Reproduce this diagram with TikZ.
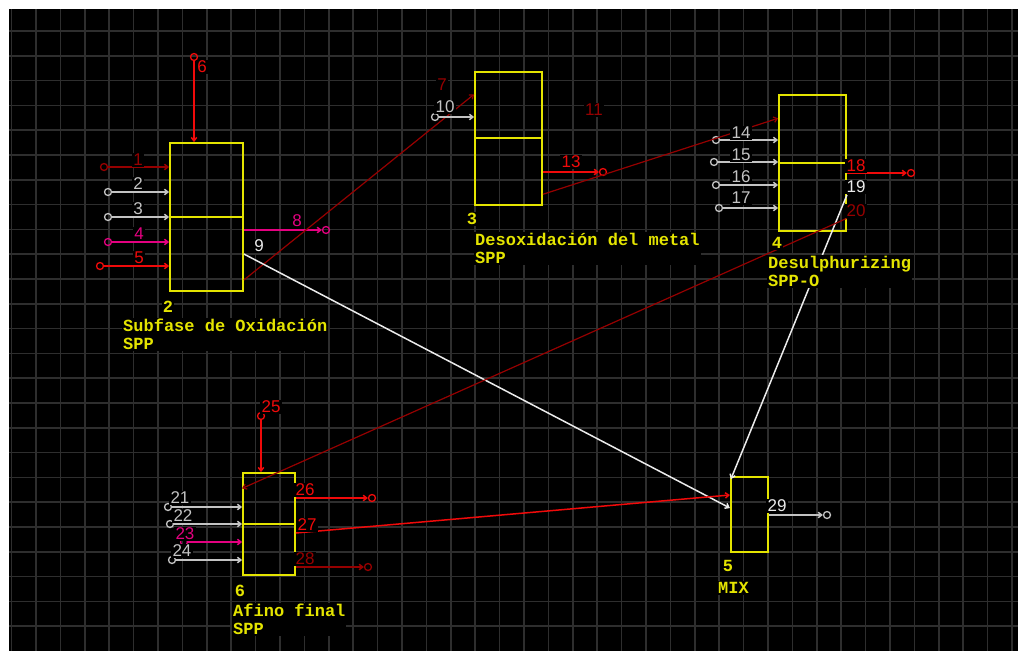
\documentclass[tikz,border=0pt]{standalone}
\usepackage{fontspec}
\setmainfont{Liberation Sans}
\newfontfamily\blockfont{Liberation Mono}
\usepackage{tikz}
\usetikzlibrary{arrows.meta, positioning, calc}
\definecolor{gridgray}{RGB}{46,46,46}
\definecolor{blkyellow}{RGB}{228,228,0}
\definecolor{darkred}{RGB}{150,0,0}
\definecolor{redline}{RGB}{240,10,10}
\definecolor{magentaln}{RGB}{228,0,128}
\definecolor{grayline}{RGB}{195,195,195}
\definecolor{whiteln}{RGB}{235,235,235}
\tikzset{
  gridline/.style={gridgray, line width=1.5pt},
  blk/.style={draw=blkyellow, line width=1.8pt, inner sep=0pt},
  strm/.style={line width=1.5pt, -{Straight Barb[length=3.5pt,width=5.5pt]}},
  src/.style={circle, line width=1.3pt, minimum size=7pt, inner sep=0pt},
  num/.style={fill=black, inner xsep=1.5pt, inner ysep=1pt, text depth=0pt,
    font=\fontsize{17}{17}\selectfont},
  bnum/.style={fill=black, inner sep=1pt, text=blkyellow,
    font=\blockfont\bfseries\fontsize{17}{18}\selectfont},
  title/.style={fill=black, align=left, anchor=north west, inner sep=1pt,
    text=blkyellow, font=\blockfont\bfseries\fontsize{17}{18}\selectfont}
}

\begin{document}
\begin{tikzpicture}[x=1pt, y=-1pt]
  \useasboundingbox (0,0) rectangle (1018,651);
  \fill[black] (9,9) rectangle (1018,651);
  % grid
  \foreach \k in {0,...,41}
    \draw[gridline] ({11.6+24.4*\k},9) -- ({11.6+24.4*\k},651);
  \foreach \k in {0,...,24}
    \draw[gridline] (9,{31+24.8*\k}) -- (1018,{31+24.8*\k});

  % unit blocks
  \node[blk, minimum width=73pt, minimum height=148pt] (b2) at (206.5,217) {};
  \node[blk, minimum width=67pt, minimum height=133pt] (b3) at (508.5,138.3) {};
  \node[blk, minimum width=67pt, minimum height=136pt] (b4) at (812.5,163) {};
  \node[blk, minimum width=37pt, minimum height=75pt] (b5) at (749.3,514.5) {};
  \node[blk, minimum width=52pt, minimum height=102pt] (b6) at (269,524) {};
  \foreach \b in {b2,b3,b4,b6}
    \draw[blkyellow, line width=1.8pt] (\b.west) -- (\b.east);

  % stream ends
  \node[src, draw=darkred] (s1) at (104,167) {};
  \node[src, draw=grayline] (s2) at (108,192) {};
  \node[src, draw=grayline] (s3) at (108,217) {};
  \node[src, draw=magentaln] (s4) at (108,242) {};
  \node[src, draw=redline] (s5) at (100,266) {};
  \node[src, draw=redline] (s6) at (194,57) {};
  \node[src, draw=magentaln] (o8) at (326,230) {};
  \node[src, draw=grayline] (s10) at (435,117) {};
  \node[src, draw=redline] (o13) at (603,172) {};
  \node[src, draw=grayline] (s14) at (716,140) {};
  \node[src, draw=grayline] (s15) at (714,162) {};
  \node[src, draw=grayline] (s16) at (716,185) {};
  \node[src, draw=grayline] (s17) at (719,208) {};
  \node[src, draw=redline] (o18) at (911,173) {};
  \node[src, draw=grayline] (s21) at (168,507) {};
  \node[src, draw=grayline] (s22) at (170,524) {};
  \node[src, draw=magentaln] (s23) at (184,542) {};
  \node[src, draw=grayline] (s24) at (172,560) {};
  \node[src, draw=redline] (s25) at (261,416) {};
  \node[src, draw=redline] (o26) at (372,498) {};
  \node[src, draw=darkred] (o28) at (368,567) {};
  \node[src, draw=grayline] (o29) at (827,515) {};

  % streams of block 2
  \draw[strm, darkred] (s1) -- (s1 -| b2.west);
  \draw[strm, grayline] (s2) -- (s2 -| b2.west);
  \draw[strm, grayline] (s3) -- (s3 -| b2.west);
  \draw[strm, magentaln] (s4) -- (s4 -| b2.west);
  \draw[strm, redline] (s5) -- (s5 -| b2.west);
  \draw[strm, redline] (s6) -- (s6 |- b2.north);
  \draw[strm, magentaln] (b2.east |- o8) -- (o8);
  \draw[strm, darkred, line width=1.2pt] ([yshift=-63pt]b2.east) -- ([yshift=44pt]b3.west);
  \draw[strm, whiteln] ([yshift=-37pt]b2.east) -- ([yshift=6.5pt]b5.west);
  % streams of block 3
  \draw[strm, grayline] (s10) -- (s10 -| b3.west);
  \draw[strm, redline] (b3.east |- o13) -- (o13);
  \draw[strm, darkred, line width=1.2pt] ([yshift=-56pt]b3.east) -- ([yshift=44.7pt]b4.west);
  % streams of block 4
  \foreach \s in {s14,s15,s16,s17}
    \draw[strm, grayline] (\s) -- (\s -| b4.west);
  \draw[strm, redline] (b4.east |- o18) -- (o18);
  \draw[strm, whiteln] ([yshift=-32pt]b4.east) -- ([shift={(1pt,-3pt)}]b5.north west);
  \draw[strm, darkred, line width=1.2pt] ([yshift=-55.3pt]b4.east) -- ([yshift=-16.3pt]b6.north west);
  % streams of block 6
  \draw[strm, grayline] (s21) -- (s21 -| b6.west);
  \draw[strm, grayline] (s22) -- (s22 -| b6.west);
  \draw[strm, magentaln] (s23) -- (s23 -| b6.west);
  \draw[strm, grayline] (s24) -- (s24 -| b6.west);
  \draw[strm, redline] (s25) -- (s25 |- b6.north);
  \draw[strm, redline] (b6.east |- o26) -- (o26);
  \draw[strm, redline] ([yshift=-9pt]b6.east) -- ([yshift=19.5pt]b5.west);
  \draw[strm, darkred] (b6.east |- o28) -- (o28);
  % mixer
  \draw[strm, grayline] (b5.east |- o29) -- (o29);

  % stream numbers
  \node[num, text=darkred] (n1) at (138,160) {1};
  \node[num, text=grayline] (n2) at (138,184) {2};
  \node[num, text=grayline] (n3) at (138,209) {3};
  \node[num, text=magentaln] (n4) at (139,234) {4};
  \node[num, text=redline] (n5) at (139,258) {5};
  \node[num, text=redline] (n6) at (202,67) {6};
  \node[num, text=darkred] (n7) at (442,85) {7};
  \node[num, text=magentaln] (n8) at (297,221) {8};
  \node[num, text=whiteln] (n9) at (259,246) {9};
  \node[num, text=grayline] (n10) at (445,107) {10};
  \node[num, text=darkred] (n11) at (594,110) {11};
  \node[num, text=redline] (n13) at (571,162) {13};
  \node[num, text=grayline] (n14) at (741,133) {14};
  \node[num, text=grayline] (n15) at (741,155) {15};
  \node[num, text=grayline] (n16) at (741,177) {16};
  \node[num, text=grayline] (n17) at (741,198) {17};
  \node[num, text=redline] (n18) at (856,166) {18};
  \node[num, text=whiteln] (n19) at (856,187) {19};
  \node[num, text=darkred] (n20) at (856,211) {20};
  \node[num, text=grayline] (n21) at (180,498) {21};
  \node[num, text=grayline] (n22) at (183,516) {22};
  \node[num, text=magentaln] (n23) at (185,534) {23};
  \node[num, text=grayline] (n24) at (182,551) {24};
  \node[num, text=redline] (n25) at (271,407) {25};
  \node[num, text=redline] (n26) at (305,490) {26};
  \node[num, text=redline] (n27) at (307,525) {27};
  \node[num, text=darkred] (n28) at (305,559) {28};
  \node[num, text=whiteln] (n29) at (777,506) {29};

  % block numbers and names
  \node[bnum] (l2) at (168,307) {2};
  \node[bnum] (l3) at (472,219) {3};
  \node[bnum] (l4) at (777,243) {4};
  \node[bnum] (l5) at (728,566) {5};
  \node[bnum] (l6) at (240,591) {6};
  \node[title] (t2) at (122,318) {Subfase de Oxidación\\SPP};
  \node[title] (t3) at (474,232) {Desoxidación del metal\\SPP};
  \node[title] (t4) at (767,255) {Desulphurizing\\SPP-O};
  \node[title] (t6) at (232,603) {Afino final\\SPP};
  \node[bnum] (t5) at (733.5,588) {MIX};
\end{tikzpicture}
\end{document}
